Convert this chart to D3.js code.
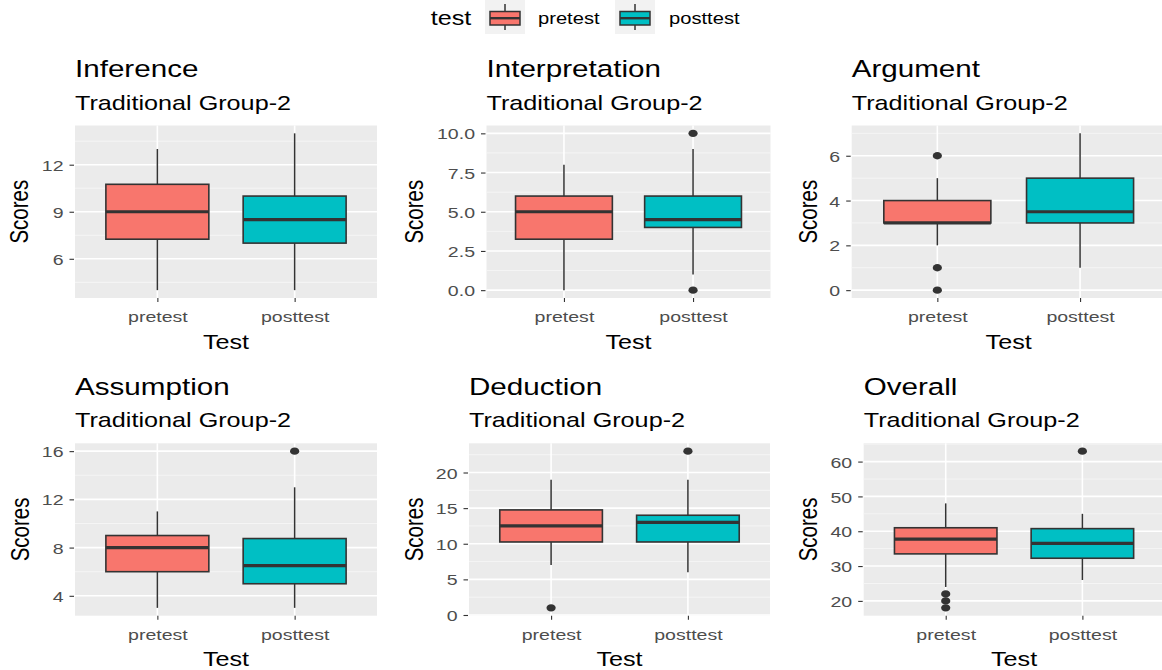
<!DOCTYPE html>
<html>
<head>
<meta charset="utf-8">
<script src="https://cdn.jsdelivr.net/npm/d3@7"></script>
<style>
  html, body { margin: 0; padding: 0; background: #fff; }
  svg { display: block; font-family: "Liberation Sans", Arial, sans-serif; }
</style>
</head>
<body>
<svg id="chart" width="1162" height="670"></svg>
<script>
// ---- data -------------------------------------------------------------
const skills = ["Inference", "Interpretation", "Argument", "Assumption", "Deduction", "Overall"];
const subtitle = "Traditional Group-2";
const tests = ["pretest", "posttest"];

// five-number summaries: [lower whisker, Q1, median, Q3, upper whisker]
const pretestStats = [
  [4, 7.25, 9, 10.75, 13],
  [0, 3.25, 5, 6, 8],
  [2, 3, 3, 4, 5],
  [3, 6, 8, 9, 11],
  [7, 10.25, 12.5, 14.75, 19],
  [24, 33.5, 37.75, 41, 48]
];
const posttestStats = [
  [4, 7, 8.5, 10, 14],
  [1, 4, 4.5, 6, 9],
  [1, 3, 3.5, 5, 7],
  [3, 5, 6.5, 8.75, 13],
  [6, 10.25, 13, 14, 19],
  [26, 32.25, 36.5, 40.75, 45]
];
const pretestOutliers = [[], [], [6, 1, 0], [], [1], [22, 20, 18]];
const posttestOutliers = [[], [10, 0], [], [16], [23], [63]];

// y-axis tick values and decimals shown on each panel
const yTicks = [
  [6, 9, 12],
  [0, 2.5, 5, 7.5, 10],
  [0, 2, 4, 6],
  [4, 8, 12, 16],
  [0, 5, 10, 15, 20],
  [20, 30, 40, 50, 60]
];
const yDecimals = [0, 1, 0, 0, 0, 0];

// ---- layout -----------------------------------------------------------
const panels = [
  { x: 75,    y: 125.5, w: 302,   h: 172.5, scoresX: 28 },
  { x: 486.5, y: 125.5, w: 284,   h: 172.5, scoresX: 423 },
  { x: 851.7, y: 125.5, w: 314,   h: 172.5, scoresX: 816.5 },
  { x: 75,    y: 443.3, w: 302,   h: 172.4, scoresX: 29 },
  { x: 469,   y: 443.3, w: 301,   h: 172.4, scoresX: 423 },
  { x: 863.7, y: 443.3, w: 300.7, h: 172.4, scoresX: 816.5 }
];
const fills = { pretest: "#F8766D", posttest: "#00BFC4" };
const SX = 1.26;          // horizontal text stretch
const ink = "#333333";
const tickInk = "#4D4D4D";

const svg = d3.select("#chart");
svg.append("rect").attr("width", 1162).attr("height", 670).attr("fill", "#fff");

// text helper: places a horizontally stretched label
function label(g, txt, x, y, opts = {}) {
  const t = g.append("text")
    .attr("transform", `translate(${x},${y}) scale(${SX},1)` + (opts.rotate ? ` rotate(${opts.rotate})` : ""))
    .attr("font-size", opts.size || 16)
    .attr("fill", opts.fill || "#000")
    .attr("text-anchor", opts.anchor || "start")
    .text(txt);
  return t;
}

function drawPanel(i) {
  const p = panels[i];
  const g = svg.append("g");
  const stats = { pretest: pretestStats[i], posttest: posttestStats[i] };
  const outs = { pretest: pretestOutliers[i], posttest: posttestOutliers[i] };

  const x = d3.scalePoint().domain(tests).range([p.x, p.x + p.w]).padding(0.6);
  const step = x.step();

  const allVals = [...stats.pretest, ...stats.posttest, ...outs.pretest, ...outs.posttest];
  const [lo, hi] = d3.extent(allVals);
  const pad = (hi - lo) * 0.05;
  const y = d3.scaleLinear().domain([lo - pad, hi + pad]).range([p.y + p.h, p.y]);

  // panel background
  g.append("rect").attr("x", p.x).attr("y", p.y).attr("width", p.w).attr("height", p.h)
    .attr("fill", "#EBEBEB");

  // minor grid: midway between majors, plus one step beyond each end when in range
  const ticks = yTicks[i];
  const stepT = ticks[1] - ticks[0];
  const minors = [];
  for (let k = -1; k < ticks.length; k++) {
    const v = ticks[0] + (k + 0.5) * stepT;
    if (v >= y.domain()[0] && v <= y.domain()[1]) minors.push(v);
  }
  g.selectAll(".minor").data(minors).join("line")
    .attr("x1", p.x).attr("x2", p.x + p.w)
    .attr("y1", d => y(d)).attr("y2", d => y(d))
    .attr("stroke", "#F6F6F6").attr("stroke-width", 0.9);
  g.selectAll(".major").data(ticks).join("line")
    .attr("x1", p.x).attr("x2", p.x + p.w)
    .attr("y1", d => y(d)).attr("y2", d => y(d))
    .attr("stroke", "#fff").attr("stroke-width", 1.6);
  g.selectAll(".vmajor").data(tests).join("line")
    .attr("x1", d => x(d)).attr("x2", d => x(d))
    .attr("y1", p.y).attr("y2", p.y + p.h)
    .attr("stroke", "#fff").attr("stroke-width", 1.6);

  // y axis
  const fmt = d3.format(`.${yDecimals[i]}f`);
  const yAxis = d3.axisLeft(y).tickValues(ticks).tickSize(4.5).tickFormat(fmt);
  const ya = g.append("g").attr("transform", `translate(${p.x - 1},0)`).call(yAxis);
  ya.select(".domain").remove();
  ya.selectAll("line").attr("stroke", ink).attr("stroke-width", 1.1);
  ya.selectAll("text")
    .attr("x", null).attr("dy", null)
    .attr("transform", `translate(-10.5,5.6) scale(${SX},1)`)
    .attr("font-size", 15.5).attr("fill", tickInk)
    .attr("font-family", "Liberation Sans, Arial, sans-serif");

  // x axis
  const xAxis = d3.axisBottom(x).tickSize(4).tickSizeOuter(0);
  const xa = g.append("g").attr("transform", `translate(0,${p.y + p.h})`).call(xAxis);
  xa.select(".domain").remove();
  xa.selectAll("line").attr("stroke", ink).attr("stroke-width", 1.1);
  xa.selectAll("text")
    .attr("y", null).attr("dy", null)
    .attr("transform", `translate(0,24) scale(${SX},1)`)
    .attr("font-size", 15.5).attr("fill", tickInk)
    .attr("font-family", "Liberation Sans, Arial, sans-serif");

  // boxes
  const bw = step * 0.75;
  tests.forEach(t => {
    const [w0, q1, med, q3, w1] = stats[t];
    const cx = x(t);
    const bg = g.append("g");
    bg.append("line").attr("x1", cx).attr("x2", cx).attr("y1", y(w1)).attr("y2", y(q3))
      .attr("stroke", ink).attr("stroke-width", 1.5);
    bg.append("line").attr("x1", cx).attr("x2", cx).attr("y1", y(q1)).attr("y2", y(w0))
      .attr("stroke", ink).attr("stroke-width", 1.5);
    bg.append("rect").attr("x", cx - bw / 2).attr("y", y(q3))
      .attr("width", bw).attr("height", y(q1) - y(q3))
      .attr("fill", fills[t]).attr("stroke", ink).attr("stroke-width", 1.6);
    bg.append("line").attr("x1", cx - bw / 2).attr("x2", cx + bw / 2)
      .attr("y1", y(med)).attr("y2", y(med))
      .attr("stroke", ink).attr("stroke-width", 3.2);
    bg.selectAll("ellipse").data(outs[t]).join("ellipse")
      .attr("cx", cx).attr("cy", d => y(d)).attr("rx", 4.6).attr("ry", 3.7)
      .attr("fill", ink);
  });

  // titles
  label(g, skills[i], p.x, p.y - 48.5, { size: 23.5 });
  label(g, subtitle, p.x, p.y - 16, { size: 20 });
  label(g, "Test", p.x + p.w / 2, p.y + p.h + 50.5, { size: 20, anchor: "middle" });
  label(g, "Scores", p.scoresX, p.y + p.h / 2, { size: 20.5, anchor: "middle", rotate: -90 });
}

skills.forEach((_, i) => drawPanel(i));

// ---- legend -----------------------------------------------------------
const lg = svg.append("g");
label(lg, "test", 430.7, 25, { size: 20 });
const keyX = [485, 615];
const textX = [538, 669];
tests.forEach((t, k) => {
  const kx = keyX[k];
  lg.append("rect").attr("x", kx).attr("y", 0).attr("width", 40).attr("height", 34).attr("fill", "#F2F2F2");
  lg.append("line").attr("x1", kx + 20).attr("x2", kx + 20).attr("y1", 4).attr("y2", 30)
    .attr("stroke", ink).attr("stroke-width", 1.5);
  lg.append("rect").attr("x", kx + 5).attr("y", 11.5).attr("width", 30).attr("height", 13.5)
    .attr("fill", fills[t]).attr("stroke", ink).attr("stroke-width", 1.5);
  lg.append("line").attr("x1", kx + 5).attr("x2", kx + 35).attr("y1", 18.2).attr("y2", 18.2)
    .attr("stroke", ink).attr("stroke-width", 2.4);
  label(lg, t, textX[k], 24, { size: 16 });
});
</script>
</body>
</html>
